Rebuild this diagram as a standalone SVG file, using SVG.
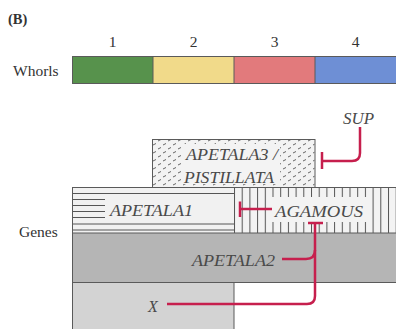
<svg xmlns="http://www.w3.org/2000/svg" width="396" height="329" viewBox="0 0 396 329">
<defs>
<style>
.lbl{font-family:"Liberation Serif","Times New Roman",serif;font-size:15.5px;fill:#333}
.gene{font-family:"Liberation Serif","Times New Roman",serif;font-style:italic;font-size:16px;fill:#4a4a4a}
.edge{stroke:#5a5a5a;stroke-width:1;fill:none}
.hatch{stroke:#555;stroke-width:1;fill:none}
.inh{stroke:#c61f4d;stroke-width:2.5;fill:none;stroke-linecap:butt;stroke-linejoin:round}
</style>
<pattern id="dash" x="152" y="139" width="10" height="8" patternUnits="userSpaceOnUse">
<line x1="1" y1="6" x2="4" y2="4.5" stroke="#555" stroke-width="0.9"/>
<line x1="6" y1="2" x2="9" y2="0.5" stroke="#555" stroke-width="0.9"/>
</pattern>
<pattern id="vert" x="234" y="0" width="7.7" height="10" patternUnits="userSpaceOnUse">
<line x1="0.5" y1="0" x2="0.5" y2="10" stroke="#555" stroke-width="1"/>
</pattern>
</defs>
<rect width="396" height="329" fill="#ffffff"/>

<text class="lbl" x="8" y="24" style="font-weight:bold;font-size:14.5px">(B)</text>

<g id="whorls">
<text class="lbl" x="13" y="76">Whorls</text>
<g id="whorl1"><rect x="72" y="56" width="81" height="28" fill="#57924c"/><text class="lbl" x="112.5" y="47" text-anchor="middle">1</text></g>
<g id="whorl2"><rect x="153" y="56" width="81" height="28" fill="#f1da8a"/><text class="lbl" x="193.5" y="47" text-anchor="middle">2</text></g>
<g id="whorl3"><rect x="234" y="56" width="81" height="28" fill="#e27a7c"/><text class="lbl" x="274.5" y="47" text-anchor="middle">3</text></g>
<g id="whorl4"><rect x="315" y="56" width="82" height="28" fill="#6e8fd5"/><text class="lbl" x="355.5" y="47" text-anchor="middle">4</text></g>
<path class="edge" d="M72.5,56.5 H397 M72.5,83.5 H397 M72.5,56.5 V83.5 M153,56.5 V83.5 M234,56.5 V83.5 M315,56.5 V83.5"/>
</g>

<text class="lbl" x="19" y="237">Genes</text>

<g id="x-region">
<rect x="72" y="282" width="162" height="48" fill="#d3d3d3"/>
<path class="edge" d="M72.5,282 V330 M234,282 V330"/>
<text class="gene" x="148" y="312">X</text>
</g>

<g id="apetala2">
<rect x="72" y="233" width="325" height="49" fill="#b5b5b5"/>
<path class="edge" d="M72.5,233 V282 M72,282.5 H397"/>
<text class="gene" x="192" y="266" textLength="83" lengthAdjust="spacingAndGlyphs">APETALA2</text>
</g>

<g id="apetala1">
<rect x="72" y="187" width="162" height="46" fill="#f1f1f1"/>
<path class="hatch" d="M72,193.5 H234 M72,224 H234 M72,230 H234 M72,199.5 H105 M72,205.5 H105 M72,211.5 H105 M72,217.5 H105"/>
<text class="gene" x="110" y="216" textLength="83" lengthAdjust="spacingAndGlyphs">APETALA1</text>
</g>

<g id="agamous">
<rect x="234" y="187" width="163" height="46" fill="#f3f3f3"/>
<rect x="234" y="187" width="163" height="46" fill="url(#vert)"/>
<rect x="269.5" y="197" width="98" height="25" fill="#f3f3f3"/>
<text class="gene" x="275" y="217" textLength="88" lengthAdjust="spacingAndGlyphs">AGAMOUS</text>
</g>
<path class="edge" d="M72.5,187 V233 M72,187.5 H397 M72,233 H397"/>

<g id="apetala3-pistillata">
<rect x="152.5" y="139.5" width="162.5" height="48" fill="#f3f3f3" stroke="#5a5a5a" stroke-width="1"/>
<rect x="153" y="140" width="161.5" height="47" fill="url(#dash)"/>
<rect x="183" y="144" width="97" height="40" fill="#f3f3f3"/>
<text class="gene" x="186" y="160" textLength="92" lengthAdjust="spacingAndGlyphs">APETALA3 /</text>
<text class="gene" x="184" y="183" textLength="90" lengthAdjust="spacingAndGlyphs">PISTILLATA</text>
</g>

<g id="sup">
<text class="gene" x="343" y="124" textLength="31" lengthAdjust="spacingAndGlyphs">SUP</text>
</g>

<g id="connectors">
<path class="inh" d="M360,127 V153 Q360,161 352,161 H322"/>
<path class="inh" d="M322,152 V169"/>
<path class="inh" d="M272,209 H240"/>
<path class="inh" d="M240,201.5 V217"/>
<path class="inh" d="M308,223 H323"/>
<path class="inh" d="M315,223 V296 Q315,304 307,304 H167"/>
<path class="inh" d="M282,259 H306 Q315,259 315,250"/>
</g>
</svg>
